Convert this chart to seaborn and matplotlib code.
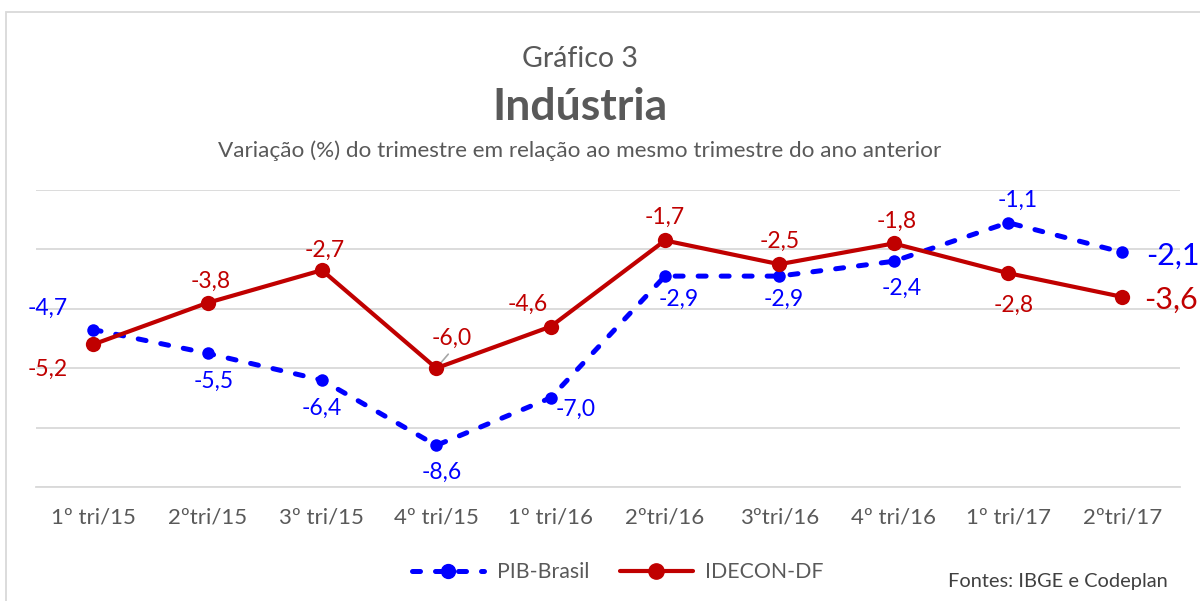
import matplotlib
matplotlib.use("Agg")
import matplotlib.pyplot as plt
import seaborn as sns
import pandas as pd
from matplotlib.lines import Line2D

categories = ["1º tri/15", "2ºtri/15", "3º tri/15", "4º tri/15", "1º tri/16",
              "2ºtri/16", "3ºtri/16", "4º tri/16", "1º tri/17", "2ºtri/17"]
pib = [-4.7, -5.5, -6.4, -8.6, -7.0, -2.9, -2.9, -2.4, -1.1, -2.1]
idecon = [-5.2, -3.8, -2.7, -6.0, -4.6, -1.7, -2.5, -1.8, -2.8, -3.6]

BLUE = "#0000FF"
RED = "#C00000"
GRAY = "#595959"

sns.set_theme(style="white")
plt.rcParams["font.family"] = ["Lato", "DejaVu Sans"]

fig = plt.figure(figsize=(12, 6.01), dpi=100)
ax = fig.add_axes([0.03, 0.1897, 0.953, 0.4942])

df_p = pd.DataFrame({"x": range(len(categories)), "y": pib})
df_i = pd.DataFrame({"x": range(len(categories)), "y": idecon})

sns.lineplot(data=df_p, x="x", y="y", ax=ax, color=BLUE, lw=3.6,
             marker="o", markersize=9, markeredgewidth=0, zorder=3)
ax.lines[-1].set_dashes([1.6, 3.0])
ax.lines[-1].set_dash_capstyle("round")
sns.lineplot(data=df_i, x="x", y="y", ax=ax, color=RED, lw=3.0,
             marker="o", markersize=11, markeredgewidth=0, zorder=4)

ax.set_xlim(-0.5, len(categories) - 0.5)
ax.set_ylim(-10, 0)
ax.set_yticks([0, -2, -4, -6, -8, -10])
ax.set_yticklabels([])
ax.tick_params(axis="y", length=0)
ax.grid(axis="y", color="#D9D9D9", lw=1.3)
ax.set_xticks(range(len(categories)))
ax.set_xticklabels(categories, fontsize=16, color=GRAY)
ax.tick_params(axis="x", length=0, pad=15)
for s in ["top", "right", "left"]:
    ax.spines[s].set_visible(False)
ax.spines["bottom"].set_color("#D9D9D9")
ax.spines["bottom"].set_linewidth(1.3)
ax.set_xlabel("")
ax.set_ylabel("")

def fmt(v):
    return f"{v:.1f}".replace(".", ",")

pib_off = [(-45, 21), (6, -28), (0, -28), (5, -27), (25, -11),
           (14, -23), (4, -23), (8, -27), (10, 22)]
idc_off = [(-45, -25), (3, 21), (3, 20), (15, 30), (-23, 22),
           (0, 23), (0, 23), (3, 22), (6, -32)]

for i, (dx, dy) in enumerate(pib_off):
    ax.annotate(fmt(pib[i]), (i, pib[i]), xytext=(dx, dy), textcoords="offset pixels",
                ha="center", va="center", fontsize=16.5, color=BLUE)
for i, (dx, dy) in enumerate(idc_off):
    ax.annotate(fmt(idecon[i]), (i, idecon[i]), xytext=(dx, dy), textcoords="offset pixels",
                ha="center", va="center", fontsize=16.5, color=RED)
# leader line for -6,0
ax.annotate("", (3, idecon[3]), xytext=(12, 14), textcoords="offset pixels",
            arrowprops=dict(arrowstyle="-", color="#A6A6A6", lw=1.2, shrinkA=0, shrinkB=2))

n = len(categories) - 1
ax.annotate(fmt(pib[n]), (n, pib[n]), xytext=(24, -3), textcoords="offset pixels",
            ha="left", va="center", fontsize=22, color=BLUE, annotation_clip=False)
ax.annotate(fmt(idecon[n]), (n, idecon[n]), xytext=(22, -3), textcoords="offset pixels",
            ha="left", va="center", fontsize=22, color=RED, annotation_clip=False)

fig.text(0.483, 0.902, "Gráfico 3", ha="center", va="center", fontsize=20.5, color=GRAY)
fig.text(0.483, 0.822, "Indústria", ha="center", va="center", fontsize=32,
         fontweight="bold", color=GRAY)
fig.text(0.483, 0.75, "Variação (%) do trimestre em relação ao mesmo trimestre do ano anterior",
         ha="center", va="center", fontsize=16.2, color=GRAY)

handles = [Line2D([], [], color=BLUE, lw=3.6, dashes=[1.6, 3.0], dash_capstyle="round",
                  marker="o", markersize=10),
           Line2D([], [], color=RED, lw=3.0, marker="o", markersize=11)]
leg = fig.legend(handles, ["PIB-Brasil", "IDECON-DF"], loc="center",
                 bbox_to_anchor=(0.515, 0.048), ncol=2, frameon=False, fontsize=15.3,
                 handlelength=3.4, columnspacing=1.45, handletextpad=0.6)
for t in leg.get_texts():
    t.set_color(GRAY)

fig.text(0.79, 0.033, "Fontes: IBGE e Codeplan", ha="left", va="center",
         fontsize=14.4, color="#404040")

fig.add_artist(plt.Rectangle((0.005, -0.01), 1.2, 0.99, transform=fig.transFigure,
                             fill=False, edgecolor="#D9D9D9", lw=1.3))

fig.savefig("out.png", dpi=100)
